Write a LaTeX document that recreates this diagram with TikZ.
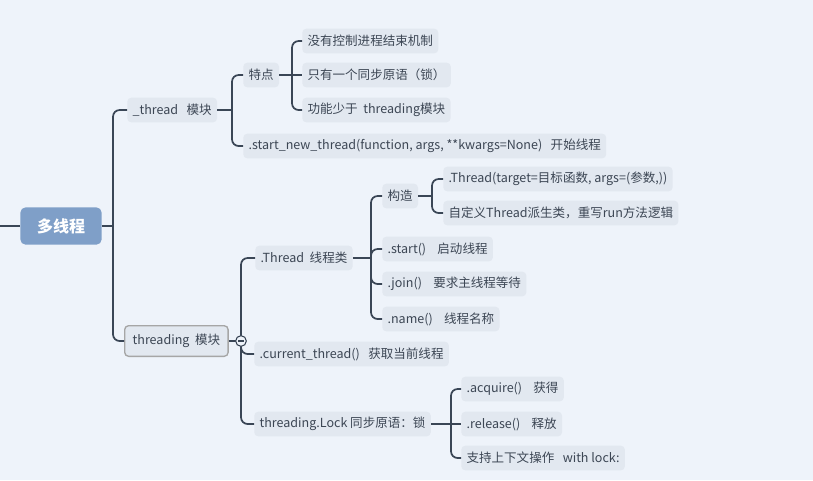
\documentclass[tikz,border=0pt]{standalone}
\usepackage{fontspec}
\setmainfont{Noto Sans CJK SC}
\begin{document}
\definecolor{bg}{HTML}{EEF3FA}
\definecolor{nf}{HTML}{E2E8F0}
\definecolor{ln}{HTML}{3A4656}
\definecolor{tx}{HTML}{3C4654}
\definecolor{rt}{HTML}{7F9FC8}
\begin{tikzpicture}[x=0.75pt,y=-0.75pt,
  n/.style={fill=nf,rounded corners=3pt,text=tx,font=\fontsize{9.4}{11}\selectfont,minimum height=18.5pt,inner xsep=4pt,anchor=west},
  conn/.style={draw=ln,line width=1.3pt,rounded corners=5pt}]
\fill[bg] (0,0) rectangle (813,480);
\useasboundingbox (0,0) rectangle (813,480);
\node[fill=rt,rounded corners=4pt,text=white,font=\fontsize{12}{14}\selectfont\bfseries,minimum width=61pt,minimum height=28pt] (root) at (61,226) {多线程};
\node[n] (th) at (127,110) {\_thread\ \ \ 模块};
\node[n,draw=gray!70,line width=1pt,minimum height=23pt,inner xsep=6pt] (tg) at (124,341) {threading\ \ 模块};
\node[n] (td) at (243,75) {特点};
\node[n] (sn) at (243,146) {.start\_new\_thread(function, args, **kwargs=None)\ \ \ 开始线程};
\node[n] (a1) at (302,41) {没有控制进程结束机制};
\node[n] (a2) at (302,75) {只有一个同步原语（锁）};
\node[n] (a3) at (302,110) {功能少于\ \ threading模块};
\node[n] (tc) at (255,258) {.Thread\ \ 线程类};
\node[n] (ct) at (254,354) {.current\_thread()\ \ \ 获取当前线程};
\node[n] (lk) at (254,424) {threading.Lock 同步原语：锁};
\node[n] (gz) at (382,196) {构造};
\node[n] (g1) at (443,179) {.Thread(target=目标函数, args=(参数,))};
\node[n] (g2) at (443,213) {自定义Thread派生类，重写run方法逻辑};
\node[n] (st) at (382,249) {.start()\ \ \ \ 启动线程};
\node[n] (jn) at (382,284) {.join()\ \ \ \ 要求主线程等待};
\node[n] (nm) at (382,319) {.name()\ \ \ \ 线程名称};
\node[n] (aq) at (461,389) {.acquire()\ \ \ \ 获得};
\node[n] (rl) at (461,424) {.release()\ \ \ \ 释放};
\node[n] (wl) at (461,458) {支持上下文操作\ \ \ with lock:};
\coordinate (L) at (0,226);
\draw[conn] (L) -- (root.west);
% root
\coordinate (s0) at (113,226);
\draw[conn] (root.east) -- (s0);
\draw[conn] (s0) |- (th.west);
\draw[conn] (s0) |- (tg.west);
% _thread
\coordinate (s1) at (232,110);
\draw[conn] (th.east) -- (s1);
\draw[conn] (s1) |- (td.west);
\draw[conn] (s1) |- (sn.west);
\coordinate (s2) at (292,75);
\draw[conn] (td.east) -- (s2);
\draw[conn] (s2) |- (a1.west);
\draw[conn] (s2) -- (a2.west);
\draw[conn] (s2) |- (a3.west);
% threading
\coordinate (s3) at (241,341);
\draw[conn] (tg.east) -- (s3);
\draw[conn] (s3) |- (tc.west);
\draw[conn] (s3) |- (ct.west);
\draw[conn] (s3) |- (lk.west);
\node[circle,draw=ln,fill=bg,line width=0.8pt,inner sep=0pt,minimum size=8pt] (cc) at (s3) {};
\draw[ln,line width=0.8pt] ([xshift=-2.2pt]cc.center) -- ([xshift=2.2pt]cc.center);
\coordinate (s4) at (371,258);
\draw[conn] (tc.east) -- (s4);
\draw[conn] (s4) |- (gz.west);
\draw[conn] (s4) |- (st.west);
\draw[conn] (s4) |- (jn.west);
\draw[conn] (s4) |- (nm.west);
\coordinate (s5) at (432,196);
\draw[conn] (gz.east) -- (s5);
\draw[conn] (s5) |- (g1.west);
\draw[conn] (s5) |- (g2.west);
\coordinate (s6) at (451,424);
\draw[conn] (lk.east) -- (s6);
\draw[conn] (s6) |- (aq.west);
\draw[conn] (s6) -- (rl.west);
\draw[conn] (s6) |- (wl.west);
\end{tikzpicture}
\end{document}
